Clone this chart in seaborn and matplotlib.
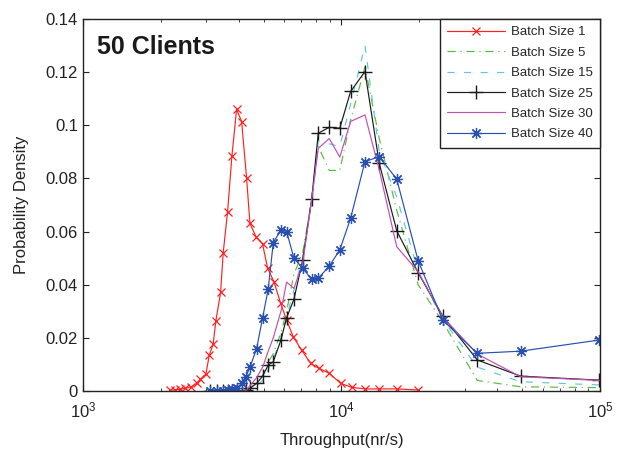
import numpy as np
import pandas as pd
import seaborn as sns
import matplotlib
matplotlib.use("Agg")
import matplotlib.pyplot as plt
from matplotlib.ticker import LogLocator, FormatStrFormatter, NullFormatter

# Batch size 1 has its own bins
x_b1 = [2171, 2270, 2371, 2481, 2631, 2754, 2851, 2991, 3083, 3192, 3270, 3410, 3490, 3628,
        3771, 3932, 4111, 4297, 4427, 4670, 4955, 5182, 5483, 5821, 6137, 6510, 7015, 7604,
        8203, 8971, 9929, 10950, 12330, 14000, 16440, 19800]
y_b1 = [0.0004, 0.0004, 0.0006, 0.001, 0.0016, 0.0029, 0.0044, 0.0064, 0.0135, 0.0177, 0.0265,
        0.0371, 0.052, 0.0674, 0.0884, 0.106, 0.1014, 0.0803, 0.0631, 0.0581, 0.0553, 0.0462,
        0.0411, 0.033, 0.0267, 0.0204, 0.0154, 0.0104, 0.0085, 0.0067, 0.0029, 0.0014, 0.0008,
        0.0008, 0.0008, 0.0004]

# shared bins for the other batch sizes
x_bins = [3097, 3289, 3490, 3650, 3760, 3933, 4112, 4272, 4427, 4700, 4958, 5210, 5450, 5835,
          6138, 6550, 7080, 7674, 8135, 8971, 9856, 10850, 12330, 14000, 16360, 19800, 24630,
          33500, 49300, 99300]
y_b5 = [0, 0, 0, 0, 0, 0, 0, 0, 0.001, 0.003, 0.006, 0.011, 0.014, 0.022, 0.03, 0.044, 0.052,
        0.072, 0.092, 0.083, 0.083, 0.102, 0.122, 0.095, 0.068, 0.04, 0.026, 0.004, 0.0016, 0.0013]
y_b15 = [0, 0, 0, 0, 0, 0, 0, 0, 0.001, 0.002, 0.004, 0.008, 0.012, 0.02, 0.028, 0.038, 0.05,
         0.072, 0.094, 0.093, 0.092, 0.108, 0.130, 0.09, 0.073, 0.045, 0.027, 0.009, 0.0035, 0.0023]
y_b25 = [0, 0, 0, 0, 0, 0, 0, 0.0003, 0.001, 0.0029, 0.0056, 0.0098, 0.011, 0.0192, 0.0276,
         0.0345, 0.0493, 0.0722, 0.097, 0.0992, 0.0989, 0.1127, 0.1202, 0.0857, 0.0603, 0.0445,
         0.0282, 0.0117, 0.0056, 0.0041]
y_b30 = [0, 0, 0, 0, 0, 0, 0, 0, 0.002, 0.005, 0.009, 0.015, 0.02, 0.03, 0.041, 0.0386, 0.048,
         0.072, 0.0913, 0.095, 0.088, 0.1014, 0.1039, 0.0832, 0.0543, 0.0449, 0.0279, 0.0139,
         0.0054, 0.004]
y_b40 = [0, 0, 0, 0.0004, 0.0006, 0.001, 0.0029, 0.0054, 0.0089, 0.016, 0.0276, 0.0384, 0.0558,
         0.0606, 0.06, 0.05, 0.0462, 0.042, 0.0424, 0.047, 0.0531, 0.065, 0.0863, 0.0882, 0.0797,
         0.049, 0.0267, 0.0142, 0.015, 0.0192]

sns.set_style("ticks")
plt.rcParams['font.family'] = ['Liberation Sans', 'DejaVu Sans']
plt.rcParams['mathtext.fontset'] = 'custom'
plt.rcParams['mathtext.rm'] = 'Liberation Sans'

fig = plt.figure(figsize=(6.18, 4.5), dpi=100)
ax = fig.add_axes([0.134, 0.131, 0.837, 0.827])

c1, c5, c15, c25, c30, c40 = '#ff2020', '#5cb83c', '#5cc8dc', '#1a1a1a', '#c050b0', '#2850b0'

sns.lineplot(x=x_b1, y=y_b1, ax=ax, color=c1, lw=0.85, marker='x', markersize=5.5,
             markeredgewidth=0.9, markeredgecolor=c1, sort=False, estimator=None,
             label='Batch Size 1')
sns.lineplot(x=x_bins, y=y_b5, ax=ax, color=c5, lw=0.85, linestyle=(0, (7, 4, 1, 4)),
             sort=False, estimator=None, label='Batch Size 5')
sns.lineplot(x=x_bins, y=y_b15, ax=ax, color=c15, lw=0.85, linestyle=(0, (6, 8)),
             sort=False, estimator=None, label='Batch Size 15')
sns.lineplot(x=x_bins, y=y_b25, ax=ax, color=c25, lw=0.85, marker='+', markersize=10,
             markeredgewidth=1.0, markeredgecolor=c25, sort=False, estimator=None,
             label='Batch Size 25')
sns.lineplot(x=x_bins, y=y_b30, ax=ax, color=c30, lw=0.85,
             sort=False, estimator=None, label='Batch Size 30')
sns.lineplot(x=x_bins, y=y_b40, ax=ax, color=c40, lw=0.85, marker=(8, 2, 0), markersize=8,
             markeredgewidth=0.9, markeredgecolor=c40, sort=False, estimator=None,
             label='Batch Size 40')

ax.set_xscale('log')
ax.set_xlim(1000, 100000)
ax.set_ylim(0, 0.14)
ax.set_yticks(np.arange(0, 0.141, 0.02))
ax.yaxis.set_major_formatter(FormatStrFormatter('%g'))
ax.xaxis.set_major_locator(LogLocator(base=10, numticks=10))
ax.xaxis.set_minor_locator(LogLocator(base=10, subs=np.arange(2, 10), numticks=20))
ax.xaxis.set_minor_formatter(NullFormatter())

for s in ax.spines.values():
    s.set_visible(True)
    s.set_color('#222222')
    s.set_linewidth(1.0)
ax.tick_params(which='both', direction='in', top=True, right=True, labelsize=12, colors='#222222')
ax.tick_params(which='major', length=4)
ax.tick_params(which='minor', length=2.5)
ax.tick_params(axis='x', pad=7)

ax.set_xlabel('Throughput(nr/s)', fontsize=12, color='#222222', labelpad=9)
ax.set_ylabel('Probability Density', fontsize=12, color='#222222', labelpad=12)
ax.text(0.027, 0.958, '50 Clients', transform=ax.transAxes, fontsize=18, fontweight='bold',
        va='top', ha='left', color='#1a1a1a')

leg = ax.legend(loc='upper right', fontsize=9.5, handlelength=4.4, labelspacing=0.62,
                borderaxespad=0, fancybox=False, framealpha=1, edgecolor='#222222',
                borderpad=0.55, handletextpad=0.45)
leg.get_frame().set_linewidth(1.0)

plt.savefig('out.png', dpi=100)
